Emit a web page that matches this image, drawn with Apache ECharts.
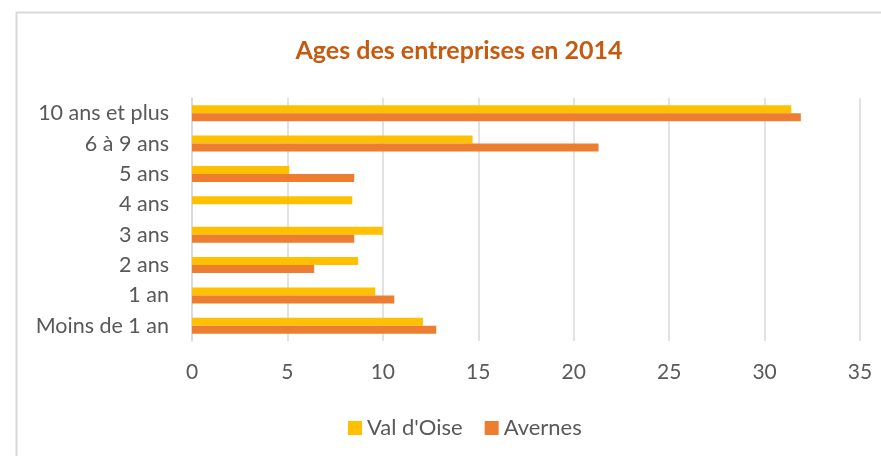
<!DOCTYPE html>
<html>
<head>
<meta charset="utf-8">
<script src="https://cdn.jsdelivr.net/npm/echarts@6/dist/echarts.min.js"></script>
<style>
  html, body { margin: 0; padding: 0; background: #fff; }
  #main { width: 881px; height: 456px; }
</style>
</head>
<body>
<div id="main"></div>
<script>
// catégories (de haut en bas)
var categories = ['10 ans et plus', '6 à 9 ans', '5 ans', '4 ans', '3 ans', '2 ans', '1 an', 'Moins de 1 an'];
var valDOise = [31.4, 14.7, 5.1, 8.4, 10.0, 8.7, 9.6, 12.1];
var avernes = [31.9, 21.3, 8.5, 0, 8.5, 6.4, 10.6, 12.8];
var xTicks = [0, 5, 10, 15, 20, 25, 30, 35];

var myChart = echarts.init(document.getElementById('main'));

var labelFont = 'Lato';

var option = {
  backgroundColor: '#fff',
  // cadre gris du graphique
  graphic: [{
    type: 'rect',
    left: 14,
    top: 10,
    shape: { width: 900, height: 500 },
    style: { fill: 'none', stroke: '#D9D9D9', lineWidth: 2 },
    silent: true
  }],
  title: {
    text: 'Ages des entreprises en 2014',
    left: 454,
    textAlign: 'center',
    top: 33,
    textStyle: {
      color: '#C55A11',
      fontFamily: labelFont,
      fontWeight: 'bold',
      fontSize: 25
    }
  },
  color: ['#FFC000', '#ED7D31'],
  legend: {
    data: ['Val d\'Oise', 'Avernes'],
    left: 343,
    top: 412,
    icon: 'rect',
    itemWidth: 14,
    itemHeight: 14,
    itemGap: 22,
    textStyle: {
      color: '#595959',
      fontFamily: labelFont,
      fontSize: 22
    }
  },
  grid: {
    left: 192,
    right: 21,
    top: 98,
    height: 243,
    containLabel: false
  },
  xAxis: {
    type: 'value',
    min: xTicks[0],
    max: xTicks[xTicks.length - 1],
    interval: 5,
    axisLine: { show: false },
    axisTick: { show: false },
    splitLine: { lineStyle: { color: '#D9D9D9', width: 1.5 } },
    axisLabel: {
      color: '#595959',
      fontFamily: labelFont,
      fontSize: 21,
      margin: 21
    }
  },
  yAxis: {
    type: 'category',
    inverse: true,
    data: categories,
    axisLine: { show: true, lineStyle: { color: '#D9D9D9', width: 1.5 } },
    axisTick: { show: false },
    axisLabel: {
      color: '#595959',
      fontFamily: labelFont,
      fontSize: 21.5,
      margin: 23
    }
  },
  series: [{
    name: 'Val d\'Oise',
    type: 'bar',
    barWidth: 8,
    barGap: '0%',
    data: valDOise
  }, {
    name: 'Avernes',
    type: 'bar',
    barWidth: 8,
    barGap: '0%',
    data: avernes
  }]
};

myChart.setOption(option);
</script>
</body>
</html>
